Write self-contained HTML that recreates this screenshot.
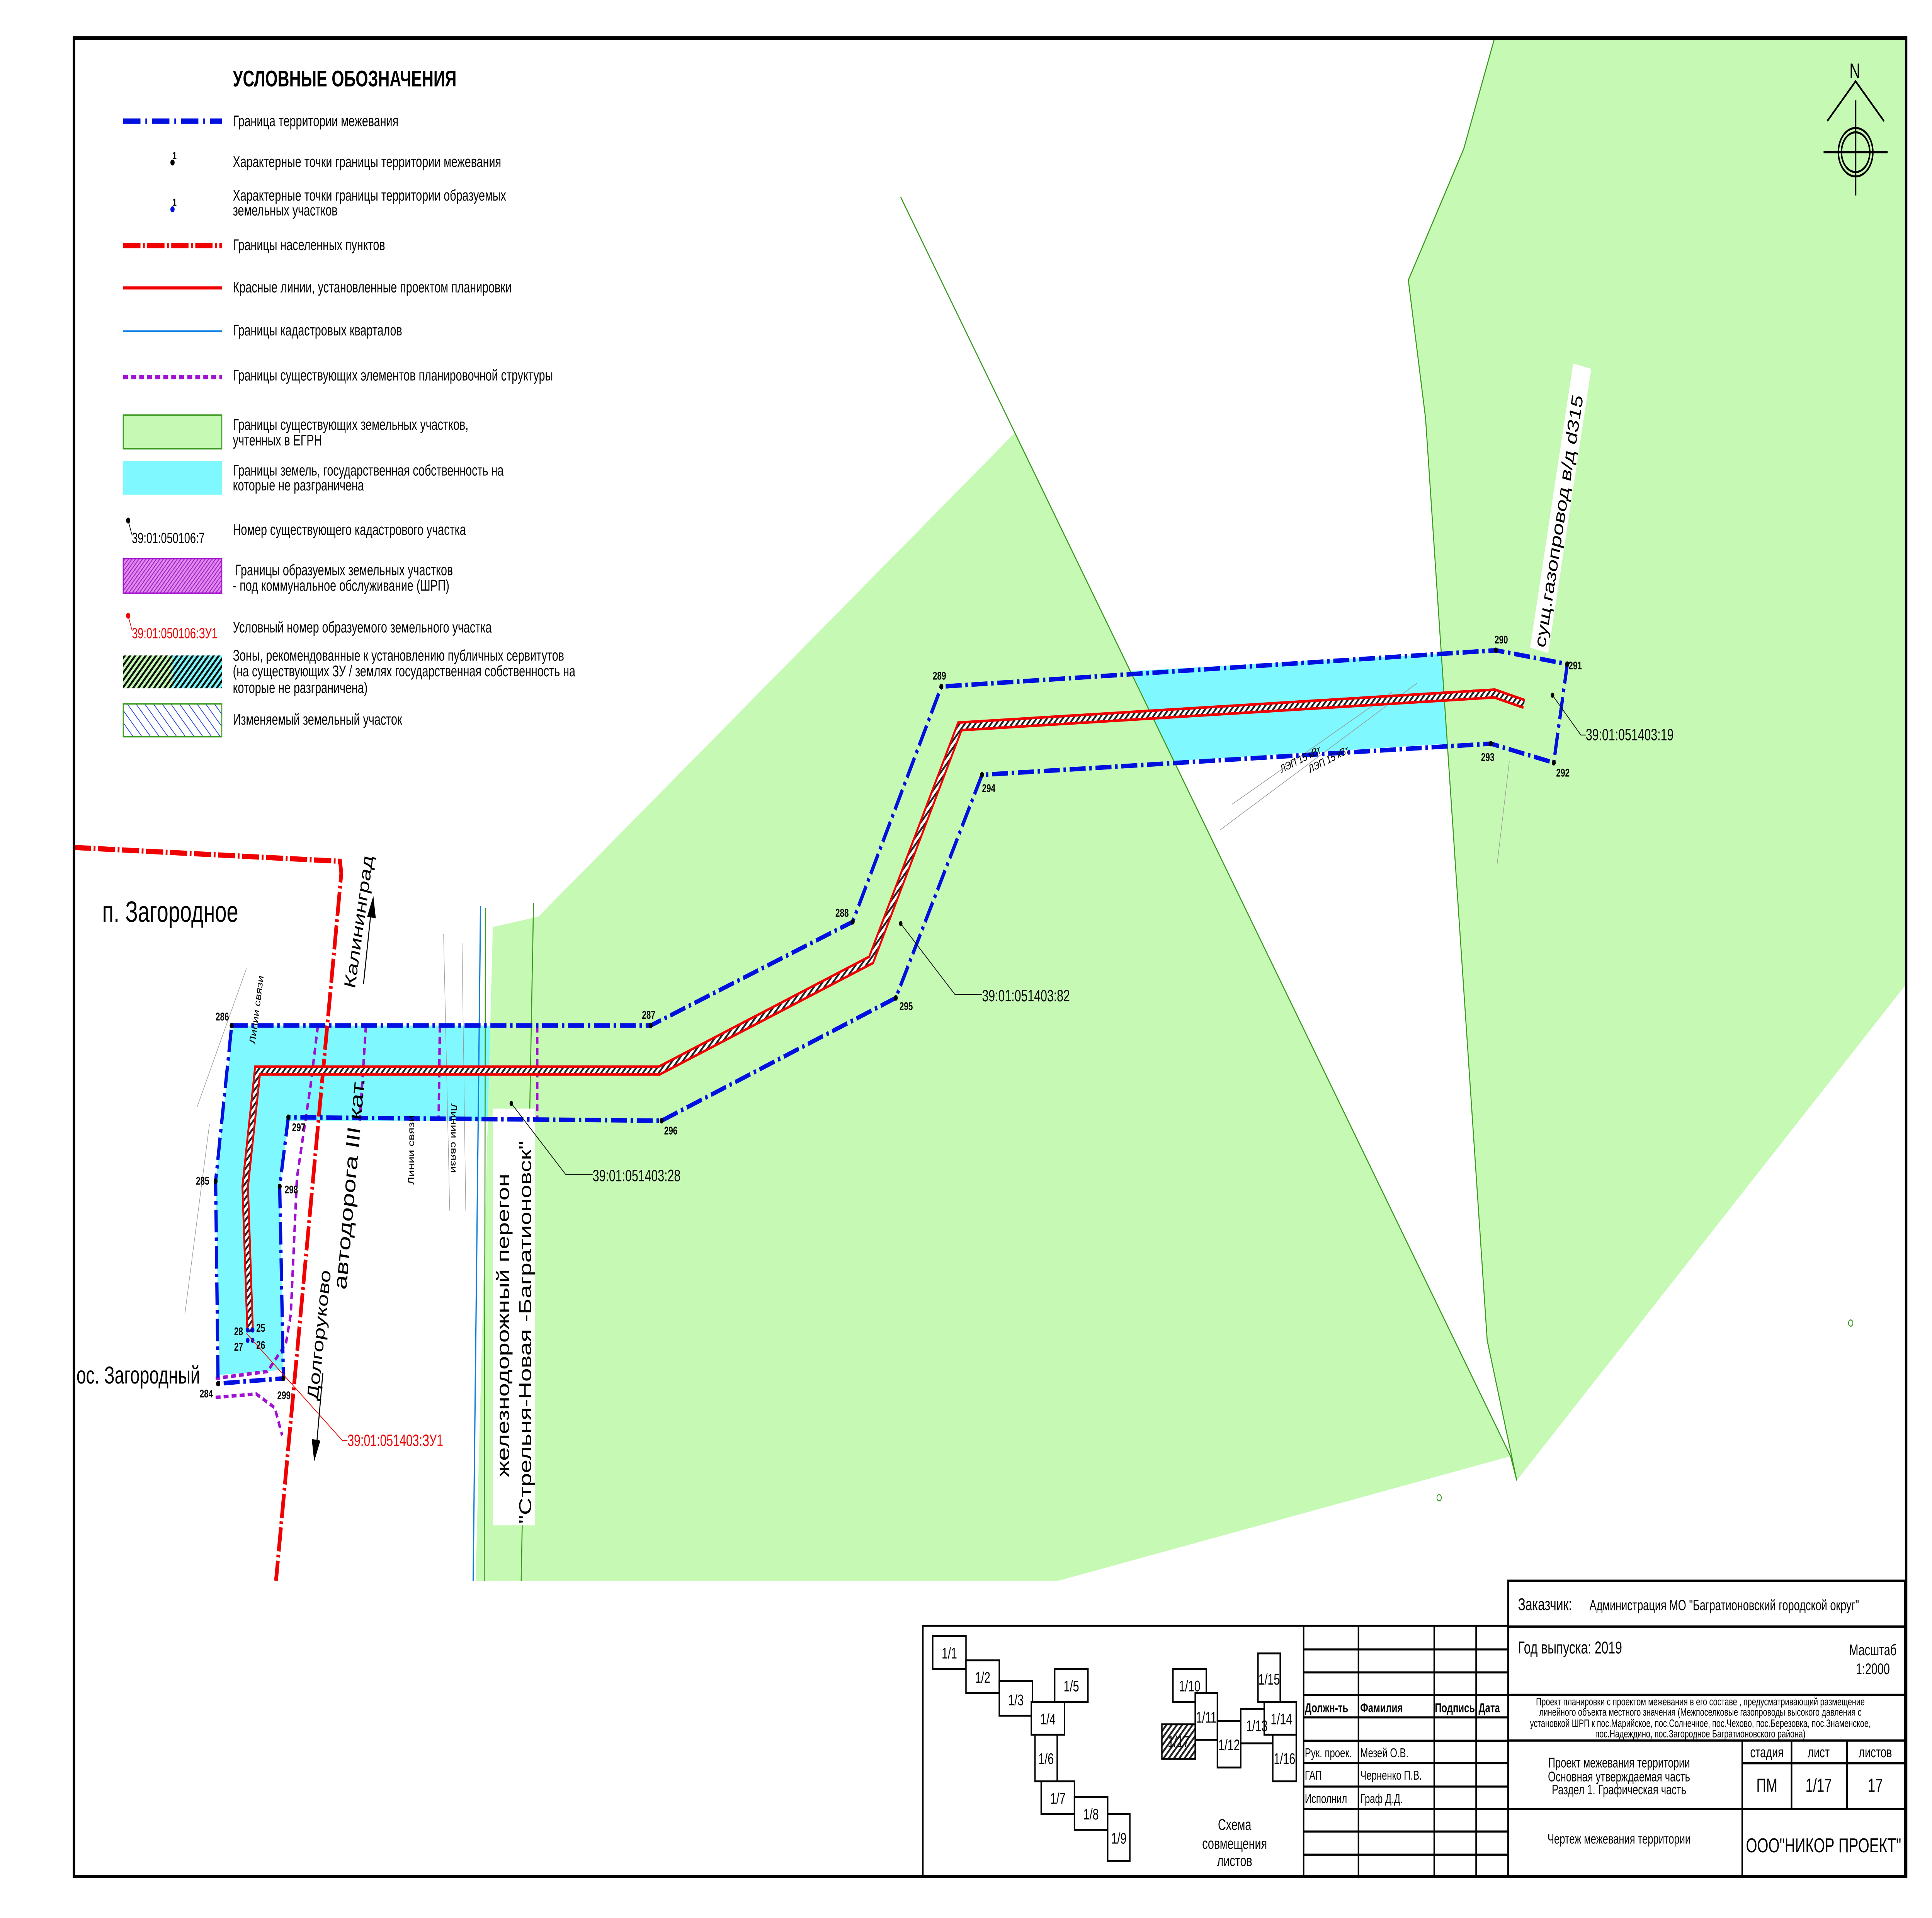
<!DOCTYPE html>
<html><head><meta charset="utf-8"><style>
html,body{margin:0;padding:0;background:#fff;width:100%;height:100%;overflow:hidden}
svg{display:block;position:absolute;left:0;top:0;width:100vw;height:100vh}
text{font-family:"Liberation Sans",sans-serif}
</style></head><body>
<svg xmlns="http://www.w3.org/2000/svg" viewBox="0 0 1568 1109" preserveAspectRatio="none">
<defs>
<pattern id="hk" width="3" height="3" patternUnits="userSpaceOnUse" patternTransform="rotate(45)"><rect width="3" height="3" fill="#c6f9b4"/><rect width="1.4" height="3" fill="#111"/></pattern>
<pattern id="hkc" width="3" height="3" patternUnits="userSpaceOnUse" patternTransform="rotate(45)"><rect width="3" height="3" fill="#7ff9ff"/><rect width="1.4" height="3" fill="#111"/></pattern>
<pattern id="hp" width="2" height="2" patternUnits="userSpaceOnUse" patternTransform="rotate(45)"><rect width="2" height="2" fill="#e08af0"/><rect width="0.6" height="2" fill="#a020c0"/></pattern>
<pattern id="hb" width="5" height="5" patternUnits="userSpaceOnUse" patternTransform="rotate(-45)"><rect width="5" height="5" fill="#fff"/><rect width="0.5" height="5" fill="#2040e0"/></pattern>
<pattern id="hs" width="3" height="3" patternUnits="userSpaceOnUse" patternTransform="rotate(45)"><rect width="3" height="3" fill="#fff"/><rect width="1.3" height="3" fill="#222"/></pattern>
</defs>

<!-- map fills -->
<polygon points="189,593 437,593 437,648 234,648 227,686 230,792 178,795 175,683" fill="#7ff9ff"/>
<polygon points="400,536 437,530 824,250 1226,842 859,914 386,914" fill="#c6f9b4"/>
<polygon points="1213,22 1188,86 1143,162 1157,242 1207,775 1224,834 1231,856 1546,570 1546,22" fill="#c6f9b4"/>
<polygon points="918,388 1170,378 1175,430 953,440" fill="#7ff9ff"/>
<!-- green lines -->
<polyline points="731,114 1226,842 1231,856" fill="none" stroke="#3a9a20" stroke-width="0.8"/>
<polyline points="1213,22 1188,86 1143,162 1157,242 1207,775 1231,856" fill="none" stroke="#3a9a20" stroke-width="0.8"/>
<line x1="394" y1="525" x2="393" y2="914" stroke="#3a9a20" stroke-width="0.8"/>
<line x1="433" y1="522" x2="423" y2="914" stroke="#3a9a20" stroke-width="0.8"/>
<circle cx="1502" cy="765" r="1.8" fill="none" stroke="#3a9a20" stroke-width="0.6"/>
<circle cx="1168" cy="866" r="1.8" fill="none" stroke="#3a9a20" stroke-width="0.6"/>
<!-- cadastral blue line -->
<line x1="390" y1="524" x2="384" y2="914" stroke="#1080e0" stroke-width="1"/>
<!-- faint survey lines -->
<g stroke="#999" stroke-width="0.4" fill="none">
<line x1="160" y1="640" x2="200" y2="560"/><line x1="150" y1="760" x2="170" y2="650"/>
<line x1="360" y1="540" x2="365" y2="700"/><line x1="375" y1="545" x2="378" y2="700"/>
<line x1="1000" y1="465" x2="1130" y2="400"/><line x1="990" y1="480" x2="1150" y2="395"/>
<line x1="1225" y1="440" x2="1215" y2="500"/>
</g>
<!-- railway white label box -->
<rect x="400" y="641" width="34" height="241" fill="#fff"/>

<!-- purple boundaries -->
<g fill="none" stroke="#a010d0" stroke-width="2" stroke-dasharray="4 2.5">
<polyline points="258,593 252,628 241,681 236,760 232,777 217,793 175,797"/>
<line x1="297" y1="593" x2="292" y2="648"/>
<line x1="357" y1="593" x2="356" y2="648"/>
<line x1="436" y1="593" x2="436" y2="648"/>
<polyline points="175,808 208,806 223,814 229,830"/>
</g>

<!-- red settlement boundary -->
<polyline points="60,490 276,498 277,505 224,914" fill="none" stroke="#f00000" stroke-width="3" stroke-dasharray="14 2 1.5 2"/>

<!-- pipeline -->
<polyline points="203,770 199,686 209,619 535,619 707,555 779,420 1213,401 1237,407" fill="none" stroke="#f00000" stroke-width="6" stroke-linejoin="miter"/>
<polyline points="203,770 199,686 209,619 535,619 707,555 779,420 1213,401 1237,407" fill="none" stroke="url(#hs)" stroke-width="3"/>

<!-- blue moving boundary -->
<polygon points="188,593 528,593 692,533 764,397 1214,376 1272,384 1261,441 1210,430 797,448 727,577 537,648 234,646 227,686 230,797 177,800 175,683" fill="none" stroke="#0010e0" stroke-width="2.6" stroke-dasharray="13 3 2 3"/>
<g fill="#000">
<circle cx="188" cy="593" r="1.6"/><circle cx="528" cy="593" r="1.6"/><circle cx="692" cy="533" r="1.6"/><circle cx="764" cy="397" r="1.6"/><circle cx="1214" cy="376" r="1.6"/><circle cx="1272" cy="384" r="1.6"/><circle cx="1261" cy="441" r="1.6"/><circle cx="1210" cy="430" r="1.6"/><circle cx="797" cy="448" r="1.6"/><circle cx="727" cy="577" r="1.6"/><circle cx="537" cy="648" r="1.6"/><circle cx="234" cy="646" r="1.6"/><circle cx="227" cy="686" r="1.6"/><circle cx="230" cy="797" r="1.6"/><circle cx="177" cy="800" r="1.6"/><circle cx="175" cy="683" r="1.6"/>
</g>
<g fill="#0010e0"><circle cx="201" cy="769" r="1.5"/><circle cx="205" cy="769" r="1.5"/><circle cx="201" cy="775" r="1.5"/><circle cx="205" cy="775" r="1.5"/></g>
<g font-size="6.5" font-weight="bold" fill="#000">
<text x="175" y="590">286</text><text x="521" y="589">287</text><text x="678" y="530">288</text><text x="757" y="393">289</text><text x="1213" y="372">290</text><text x="1273" y="387">291</text><text x="1263" y="449">292</text><text x="1202" y="440">293</text><text x="797" y="458">294</text><text x="730" y="584">295</text><text x="539" y="656">296</text><text x="237" y="654">297</text><text x="231" y="690">298</text><text x="225" y="809">299</text><text x="162" y="808">284</text><text x="159" y="685">285</text>
<text x="208" y="770">25</text><text x="208" y="780">26</text><text x="190" y="772">28</text><text x="190" y="781">27</text>
</g>

<!-- cadastral labels -->
<g font-size="9.5" fill="#000" stroke="#000" stroke-width="0.5">
<circle cx="1260" cy="402" r="1.2"/><polyline points="1260,402 1283,425 1287,425" fill="none"/>
<circle cx="731" cy="534" r="1.2"/><polyline points="731,534 775,575 797,575" fill="none"/>
<circle cx="415" cy="638" r="1.2"/><polyline points="415,638 459,679 481,679" fill="none"/>
</g>
<g font-size="9.5" fill="#000">
<text x="1287" y="428">39:01:051403:19</text>
<text x="797" y="579">39:01:051403:82</text>
<text x="481" y="683">39:01:051403:28</text>
</g>
<polyline points="200,771 278,833 282,833" fill="none" stroke="#f00000" stroke-width="0.5"/>
<text x="282" y="836" font-size="9.5" fill="#f00000">39:01:051403:ЗУ1</text>

<!-- map text -->
<text x="83" y="533" font-size="17">п. Загородное</text>
<text x="62" y="800" font-size="14">ос. Загородный</text>
<text transform="translate(207,604) rotate(-80)" font-size="7">Линии связи</text>
<text transform="translate(336,685) rotate(-90)" font-size="7">Линии связи</text>
<text transform="translate(366,638) rotate(90)" font-size="7">Линии связи</text>
<text transform="translate(288,572) rotate(-79)" font-size="13">Калининград</text>
<line x1="295" y1="569" x2="301" y2="528" stroke="#000" stroke-width="0.8"/>
<polygon points="303,518 298,530 305,531" fill="#000"/>
<text transform="translate(281,746) rotate(-83)" font-size="15">автодорога III кат.</text>
<text transform="translate(258,810) rotate(-82)" font-size="13">Долгоруково</text>
<line x1="262" y1="794" x2="257" y2="835" stroke="#000" stroke-width="0.8"/>
<polygon points="255,845 253,832 260,833" fill="#000"/>
<text transform="translate(413,854) rotate(-90)" font-size="14">железнодорожный перегон</text>
<text transform="translate(431,881) rotate(-90)" font-size="14">"Стрельня-Новая -Багратионовск"</text>
<g transform="translate(1254,375) rotate(-78)">
<rect x="-2" y="-12" width="168" height="15" fill="#fff"/>
<text x="0" y="0" font-size="13">сущ.газопровод в/д d315</text>
</g>
<text transform="translate(1040,447) rotate(-20)" font-size="6.5">ЛЭП 15 кВт</text>
<text transform="translate(1063,447) rotate(-20)" font-size="6.5">ЛЭП 15 кВт</text>

<!-- north arrow -->
<g fill="none" stroke="#000" stroke-width="1.2">
<polyline points="1483,70 1506,47 1529,70"/>
<circle cx="1506" cy="88" r="14"/><circle cx="1506" cy="88" r="11.5"/>
<line x1="1506" y1="58" x2="1506" y2="113"/><line x1="1480" y1="88" x2="1532" y2="88"/>
</g>
<text x="1501" y="45" font-size="12">N</text>

<!-- legend -->
<text x="189" y="50" font-size="13" font-weight="bold">УСЛОВНЫЕ ОБОЗНАЧЕНИЯ</text>
<line x1="100" y1="70" x2="180" y2="70" stroke="#0010e0" stroke-width="3" stroke-dasharray="14 4 1.5 4"/>
<circle cx="140" cy="94" r="1.7"/><text x="140" y="92" font-size="6" font-weight="bold">1</text>
<circle cx="140" cy="121" r="1.7" fill="#0010e0"/><text x="140" y="119" font-size="6" font-weight="bold">1</text>
<line x1="100" y1="142" x2="180" y2="142" stroke="#f00000" stroke-width="3" stroke-dasharray="14 2 1.5 2"/>
<line x1="100" y1="166.5" x2="180" y2="166.5" stroke="#f00000" stroke-width="1.8"/>
<line x1="100" y1="191.5" x2="180" y2="191.5" stroke="#1080e0" stroke-width="1"/>
<line x1="100" y1="218" x2="180" y2="218" stroke="#a010d0" stroke-width="2.5" stroke-dasharray="4 2.5"/>
<rect x="100" y="240" width="80" height="19.5" fill="#c6f9b4" stroke="#3a9a20" stroke-width="0.8"/>
<rect x="100" y="266.5" width="80" height="19.5" fill="#7ff9ff"/>
<circle cx="104" cy="301" r="1.7"/><polyline points="104,301 107,309" fill="none" stroke="#000" stroke-width="0.5"/>
<text x="107" y="314" font-size="8.5">39:01:050106:7</text>
<rect x="100" y="323" width="80" height="20" fill="url(#hp)" stroke="#a010d0" stroke-width="0.8"/>
<circle cx="104" cy="356" r="1.7" fill="#f00000"/><polyline points="104,356 107,364" fill="none" stroke="#f00000" stroke-width="0.5"/>
<text x="107" y="369" font-size="8.5" fill="#f00000">39:01:050106:ЗУ1</text>
<rect x="100" y="379" width="40" height="19" fill="url(#hk)"/>
<rect x="140" y="379" width="40" height="19" fill="url(#hkc)"/>
<rect x="100" y="407" width="80" height="19" fill="url(#hb)" stroke="#3a9a20" stroke-width="0.8"/>
<g font-size="9">
<text x="189" y="73">Граница территории межевания</text>
<text x="189" y="96.5">Характерные точки границы территории межевания</text>
<text x="189" y="116">Характерные точки границы территории образуемых</text>
<text x="189" y="124.6">земельных участков</text>
<text x="189" y="144.6">Границы населенных пунктов</text>
<text x="189" y="169">Красные линии, установленные проектом планировки</text>
<text x="189" y="194">Границы кадастровых кварталов</text>
<text x="189" y="220">Границы существующих элементов планировочной структуры</text>
<text x="189" y="248.5">Границы существующих земельных участков,</text>
<text x="189" y="257.5">учтенных в ЕГРН</text>
<text x="189" y="275">Границы земель, государственная собственность на</text>
<text x="189" y="283.6">которые не разграничена</text>
<text x="189" y="309.3">Номер существующего кадастрового участка</text>
<text x="191" y="332.6">Границы образуемых земельных участков</text>
<text x="189" y="341.6">- под коммунальное обслуживание (ШРП)</text>
<text x="189" y="365.7">Условный номер образуемого земельного участка</text>
<text x="189" y="382">Зоны, рекомендованные к установлению публичных сервитутов</text>
<text x="189" y="391">(на существующих ЗУ / землях государственная собственность на</text>
<text x="189" y="400.6">которые не разграничена)</text>
<text x="189" y="419">Изменяемый земельный участок</text>
</g>

<!-- bottom white area below map -->
<rect x="61" y="914" width="1486" height="170" fill="#fff"/>

<!-- scheme block -->
<g fill="none" stroke="#000" stroke-width="1.2">
<rect x="749" y="940" width="475" height="145"/>
<rect x="1058" y="940" width="166" height="145"/>
<line x1="1102.5" y1="940" x2="1102.5" y2="1085"/>
<line x1="1164" y1="940" x2="1164" y2="1085"/>
<line x1="1198" y1="940" x2="1198" y2="1085"/>
<line x1="1058" y1="953.7" x2="1224" y2="953.7"/>
<line x1="1058" y1="967" x2="1224" y2="967"/>
<line x1="1058" y1="980" x2="1224" y2="980"/>
<line x1="1058" y1="993" x2="1224" y2="993"/>
<line x1="1058" y1="1006.5" x2="1224" y2="1006.5"/>
<line x1="1058" y1="1019.5" x2="1224" y2="1019.5"/>
<line x1="1058" y1="1033" x2="1224" y2="1033"/>
<line x1="1058" y1="1046" x2="1224" y2="1046"/>
<line x1="1058" y1="1059" x2="1224" y2="1059"/>
<line x1="1058" y1="1072.4" x2="1224" y2="1072.4"/>
</g>
<g font-size="7.5">
<text x="1059" y="990" font-weight="bold">Должн-ть</text><text x="1104" y="990" font-weight="bold">Фамилия</text><text x="1164.5" y="990" font-weight="bold">Подпись</text><text x="1200" y="990" font-weight="bold">Дата</text>
<text x="1059" y="1016">Рук. проек.</text><text x="1104" y="1016">Мезей О.В.</text>
<text x="1059" y="1029">ГАП</text><text x="1104" y="1029">Черненко П.В.</text>
<text x="1059" y="1042.5">Исполнил</text><text x="1104" y="1042.5">Граф Д.Д.</text>
</g>
<g fill="#fff" stroke="#000" stroke-width="1.1">
<rect x="757" y="946" width="27" height="19"/><rect x="784" y="960" width="27" height="19"/><rect x="811" y="972" width="27" height="20"/><rect x="856" y="965" width="27" height="19"/><rect x="837" y="984" width="27" height="19"/><rect x="840" y="1003" width="18" height="27"/><rect x="845" y="1030" width="27" height="19"/><rect x="872" y="1039" width="27" height="19"/><rect x="899" y="1049" width="18" height="27"/>
<rect x="952" y="965" width="27" height="19"/><rect x="970" y="979" width="18" height="27"/><rect x="988" y="995" width="19" height="27"/><rect x="1021" y="956" width="18" height="28"/><rect x="1007" y="988" width="26" height="20"/><rect x="1026" y="984" width="26" height="19"/><rect x="1033" y="1003" width="19" height="27"/>
<rect x="943" y="997" width="27" height="20" fill="url(#hs)"/>
</g>
<g font-size="9" text-anchor="middle">
<text x="770.5" y="959">1/1</text><text x="797.5" y="973">1/2</text><text x="824.5" y="986">1/3</text><text x="869.5" y="978">1/5</text><text x="850.5" y="997">1/4</text><text x="849" y="1020">1/6</text><text x="858.5" y="1043">1/7</text><text x="885.5" y="1052">1/8</text><text x="908" y="1066">1/9</text>
<text x="965.5" y="978">1/10</text><text x="979" y="996">1/11</text><text x="997.5" y="1012">1/12</text><text x="1030" y="974">1/15</text><text x="1020" y="1001">1/13</text><text x="1040" y="997">1/14</text><text x="1042.5" y="1020">1/16</text><text x="956.5" y="1010">1/17</text>
<text x="1002" y="1058">Схема</text><text x="1002" y="1069">совмещения</text><text x="1002" y="1079">листов</text>
</g>

<!-- title block -->
<g fill="none" stroke="#000" stroke-width="1.3">
<rect x="1224" y="914" width="322" height="171"/>
<line x1="1224" y1="940.5" x2="1546" y2="940.5"/>
<line x1="1224" y1="980" x2="1546" y2="980"/>
<line x1="1224" y1="1006.4" x2="1546" y2="1006.4"/>
<line x1="1414" y1="1019.5" x2="1546" y2="1019.5"/>
<line x1="1224" y1="1046" x2="1546" y2="1046"/>
<line x1="1414" y1="1006.4" x2="1414" y2="1085"/>
<line x1="1454" y1="1006.4" x2="1454" y2="1046"/>
<line x1="1499" y1="1006.4" x2="1499" y2="1046"/>
</g>
<text x="1232" y="931" font-size="10">Заказчик:</text>
<text x="1290" y="931" font-size="8.5">Администрация МО "Багратионовский городской округ"</text>
<text x="1232" y="956" font-size="10">Год выпуска: 2019</text>
<text x="1520" y="957" font-size="9" text-anchor="middle">Масштаб</text>
<text x="1520" y="968" font-size="9" text-anchor="middle">1:2000</text>
<g font-size="6.2" text-anchor="middle">
<text x="1380" y="986">Проект планировки с проектом межевания в его составе , предусматривающий размещение</text>
<text x="1380" y="992">линейного объекта местного значения (Межпоселковые газопроводы высокого давления с</text>
<text x="1380" y="998.5">установкой ШРП к пос.Марийское, пос.Солнечное, пос.Чехово, пос.Березовка, пос.Знаменское,</text>
<text x="1380" y="1004.5">пос.Надеждино, пос.Загородное  Багратионовского района)</text>
</g>
<g font-size="8" text-anchor="middle">
<text x="1314" y="1022">Проект межевания территории</text>
<text x="1314" y="1030">Основная утверждаемая часть</text>
<text x="1314" y="1037.5">Раздел 1.  Графическая часть</text>
<text x="1314" y="1066">Чертеж межевания территории</text>
<text x="1434" y="1016" font-size="8.5">стадия</text><text x="1476" y="1016" font-size="8.5">лист</text><text x="1522" y="1016" font-size="8.5">листов</text>
<text x="1434" y="1036" font-size="11">ПМ</text><text x="1476" y="1036" font-size="11">1/17</text><text x="1522" y="1036" font-size="11">17</text>
<text x="1480" y="1071" font-size="11.5" textLength="126" lengthAdjust="spacingAndGlyphs">ООО"НИКОР ПРОЕКТ"</text>
</g>

<!-- outer frame -->
<rect x="60" y="22" width="1487" height="1063" fill="none" stroke="#000" stroke-width="2"/>
</svg>
</body></html>
